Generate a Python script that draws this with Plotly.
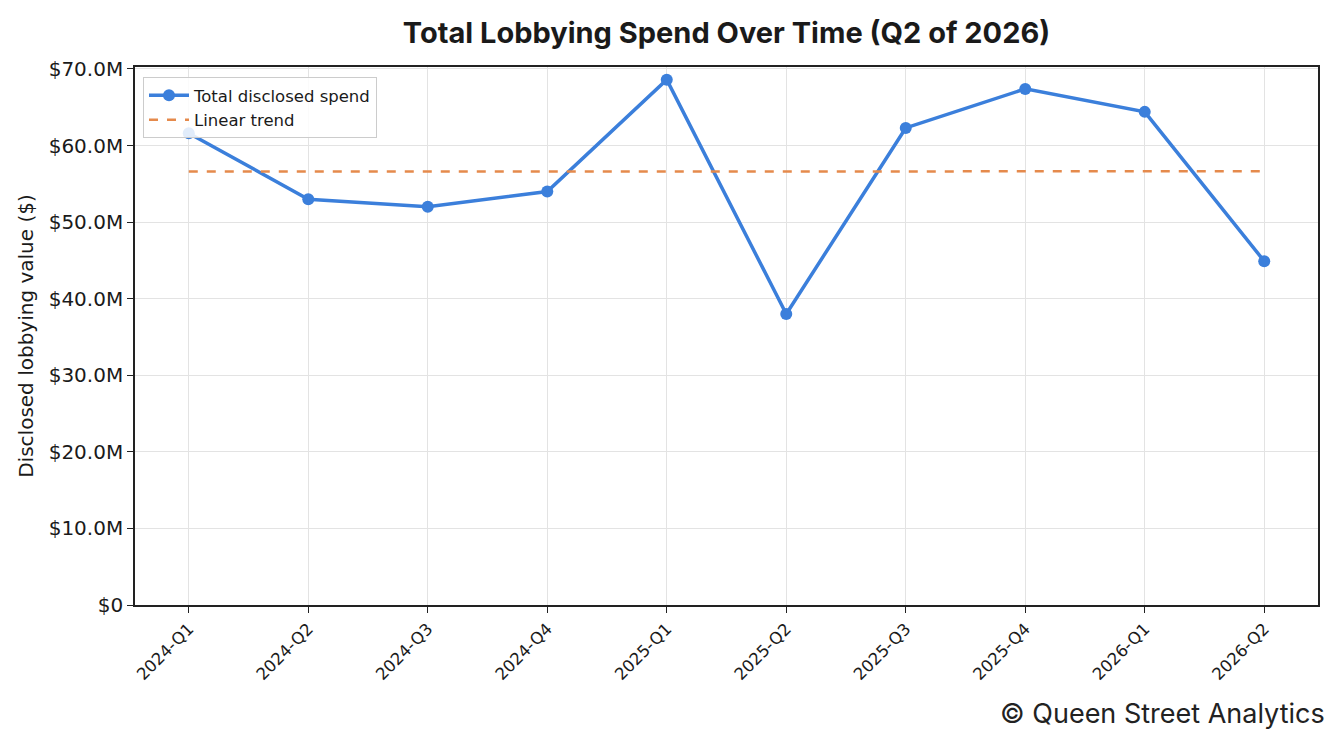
import numpy as np
import plotly.graph_objects as go

quarters = ["2024-Q1", "2024-Q2", "2024-Q3", "2024-Q4", "2025-Q1",
            "2025-Q2", "2025-Q3", "2025-Q4", "2026-Q1", "2026-Q2"]
spend_m = [61.6, 53.0, 52.0, 54.0, 68.6, 38.0, 62.3, 67.4, 64.4, 44.9]
y_tick_vals_m = [0, 10, 20, 30, 40, 50, 60, 70]
y_tick_text = ["$0", "$10.0M", "$20.0M", "$30.0M", "$40.0M", "$50.0M", "$60.0M", "$70.0M"]

spend = [v * 1e6 for v in spend_m]
idx = np.arange(len(quarters))
coef = np.polyfit(idx, spend, 1)
trend = np.polyval(coef, idx)

BLUE = "#3b7fdb"
ORANGE = "#e58a4c"
TICKFONT = "DejaVu Sans"
TXT = "#1a1a1a"

# page body has an 8px margin; the figure is sized/placed to compensate
W, H = 1335, 737
L, R, T, B = 127, 25, 59, 140
PW = W - L - R
PH = H - T - B

fig = go.Figure()
fig.add_trace(go.Scatter(
    x=idx, y=spend, mode="lines+markers", name="Total disclosed spend",
    line=dict(color=BLUE, width=3.5), marker=dict(color=BLUE, size=12),
))
fig.add_trace(go.Scatter(
    x=idx, y=trend, mode="lines", name="Linear trend",
    line=dict(color=ORANGE, width=2.5, dash="dash"),
))

fig.update_layout(
    width=W, height=H,
    paper_bgcolor="white", plot_bgcolor="white",
    margin=dict(l=L, r=R, t=T, b=B),
    title=dict(text="<b>Total Lobbying Spend Over Time (Q2 of 2026)</b>",
               xref="paper", x=0.5, xanchor="center",
               yref="container", y=1 - 25 / H, yanchor="middle",
               font=dict(family="Inter", size=29, color=TXT)),
    showlegend=True,
    legend=dict(x=8 / PW, y=1 - 10 / PH, xanchor="left", yanchor="top",
                bgcolor="rgba(255,255,255,0.85)", bordercolor="#cccccc", borderwidth=1,
                font=dict(family=TICKFONT, size=16.5, color=TXT),
                tracegroupgap=0, itemwidth=40),
    xaxis=dict(
        range=[-0.45, len(quarters) - 1 + 0.45],
        tickmode="array", tickvals=list(idx), ticktext=quarters,
        tickangle=-45, tickfont=dict(family=TICKFONT, size=16.5, color=TXT),
        showgrid=True, gridcolor="#e3e3e3", gridwidth=1,
        showline=True, linecolor="#222222", linewidth=1.6, mirror=True,
        ticks="outside", ticklen=6, tickcolor="#222222", zeroline=False,
    ),
    yaxis=dict(
        range=[0, 70.26e6],
        tickmode="array", tickvals=[v * 1e6 for v in y_tick_vals_m], ticktext=y_tick_text,
        tickfont=dict(family=TICKFONT, size=20, color=TXT),
        title=dict(text="Disclosed lobbying value ($)",
                   font=dict(family=TICKFONT, size=20, color=TXT), standoff=10),
        showgrid=True, gridcolor="#e3e3e3", gridwidth=1,
        showline=True, linecolor="#222222", linewidth=1.6, mirror=True,
        ticks="outside", ticklen=6, tickcolor="#222222", zeroline=False,
    ),
    annotations=[dict(
        text="© Queen Street Analytics", xref="paper", yref="paper",
        x=(1319 - L) / PW, y=-(705 - (H - B)) / PH, xanchor="right", yanchor="middle",
        showarrow=False, font=dict(family="Inter", size=27, color="#222222"),
    )],
)

fig.write_html("out.html")
